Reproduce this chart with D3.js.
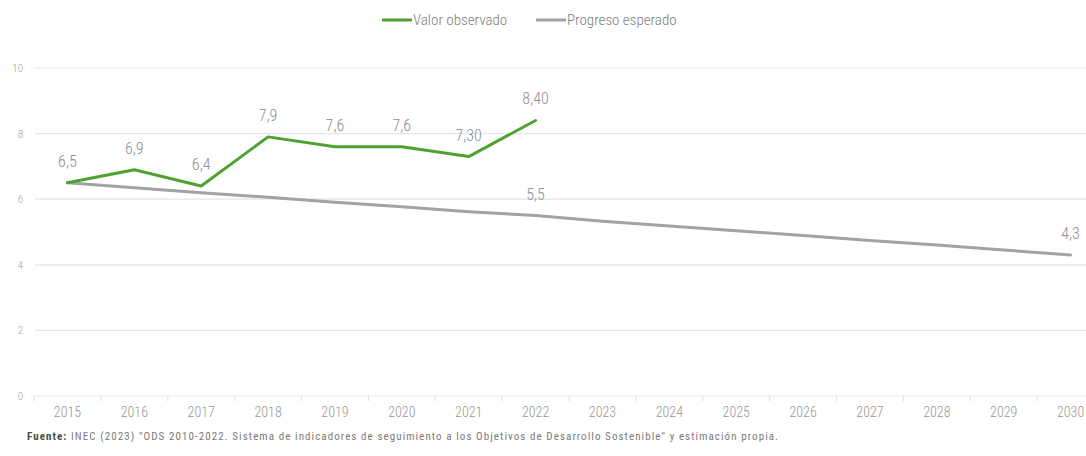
<!DOCTYPE html>
<html>
<head>
<meta charset="utf-8">
<script src="https://cdn.jsdelivr.net/npm/d3@7"></script>
<style>
  html, body { margin: 0; padding: 0; background: #fff; }
  svg { display: block; font-family: "Roboto Condensed", "Liberation Sans Narrow", "Arial Narrow", sans-serif; font-weight: 300; }
  .grid line { stroke: #e1e6ee; stroke-width: 1.2; }
  .lbl { fill: #8f8f8f; }
</style>
</head>
<body>
<div id="chart"></div>
<script>
// años del eje x
var years = ['2015','2016','2017','2018','2019','2020','2021','2022','2023','2024','2025','2026','2027','2028','2029','2030'];

// valor observado (2015-2022)
var observed = [6.5, 6.9, 6.4, 7.9, 7.6, 7.6, 7.3, 8.4];
var observedLabels = ['6,5','6,9','6,4','7,9','7,6','7,6','7,30','8,40'];

var expected = [6.5, 6.35, 6.2, 6.06, 5.91, 5.77, 5.62, 5.5, 5.33, 5.18, 5.04, 4.89, 4.74, 4.6, 4.45, 4.3];
// solo se rotulan 2022 y 2030
var expectedLabels = {'2022': '5,5', '2030': '4,3'};

var yTicks = [0, 2, 4, 6, 8, 10];

var seriesNames = ['Valor observado', 'Progreso esperado'];
var seriesColors = ['#4fa231', '#a3a3a3'];

var width = 1086, height = 456;

var svg = d3.select('#chart').append('svg')
    .attr('width', width)
    .attr('height', height);

var x = d3.scaleBand()
    .domain(years)
    .range([34, 1104]);

var y = d3.scaleLinear()
    .domain([0, 10])
    .range([396, 68]);

// lineas de cuadricula
svg.append('g').attr('class', 'grid')
  .selectAll('line')
  .data(yTicks)
  .enter().append('line')
    .attr('x1', 35)
    .attr('x2', width)
    .attr('y1', d => y(d))
    .attr('y2', d => y(d));

// eje y (solo etiquetas)
var yAxis = d3.axisLeft(y).tickValues(yTicks).tickSize(0).tickPadding(0);
svg.append('g')
    .attr('transform', 'translate(23,0)')
    .call(yAxis)
    .attr('font-family', null)
    .attr('font-size', null)
    .call(g => g.select('.domain').remove())
    .call(g => g.selectAll('text')
        .attr('fill', '#a5a5a5')
        .style('font-size', '11px'));

// eje x
var xAxis = d3.axisBottom(x).tickSize(0).tickPadding(11);
svg.append('g')
    .attr('transform', `translate(0,${y(0)})`)
    .call(xAxis)
    .attr('font-family', null)
    .attr('font-size', null)
    .call(g => g.select('.domain').remove())
    .call(g => g.selectAll('text')
        .attr('fill', '#969696')
        .style('font-size', '14px'));

// marcas entre categorias
svg.append('g').selectAll('line')
  .data(years)
  .enter().append('line')
    .attr('x1', d => x(d))
    .attr('x2', d => x(d))
    .attr('y1', y(0))
    .attr('y2', y(0) + 5)
    .attr('stroke', '#dde2ea')
    .attr('stroke-width', 1.2);

var line = d3.line()
    .x(d => x(d.year) + x.bandwidth() / 2)
    .y(d => y(d.value));

var expData = expected.map((v, i) => ({year: years[i], value: v}));
var obsData = observed.map((v, i) => ({year: years[i], value: v, label: observedLabels[i]}));

svg.append('path')
    .datum(expData)
    .attr('fill', 'none')
    .attr('stroke', seriesColors[1])
    .attr('stroke-width', 3)
    .attr('stroke-linejoin', 'round')
    .attr('stroke-linecap', 'round')
    .attr('d', line);

svg.append('path')
    .datum(obsData)
    .attr('fill', 'none')
    .attr('stroke', seriesColors[0])
    .attr('stroke-width', 3)
    .attr('stroke-linejoin', 'round')
    .attr('stroke-linecap', 'round')
    .attr('d', line);

// etiquetas de datos
svg.append('g').selectAll('text')
  .data(obsData)
  .enter().append('text')
    .attr('class', 'lbl')
    .attr('x', d => x(d.year) + x.bandwidth() / 2)
    .attr('y', d => y(d.value) - 16)
    .attr('text-anchor', 'middle')
    .style('font-size', '16px')
    .text(d => d.label);

svg.append('g').selectAll('text')
  .data(expData.filter(d => expectedLabels[d.year]))
  .enter().append('text')
    .attr('class', 'lbl')
    .attr('x', d => x(d.year) + x.bandwidth() / 2)
    .attr('y', d => y(d.value) - 16)
    .attr('text-anchor', 'middle')
    .style('font-size', '16px')
    .text(d => expectedLabels[d.year]);

// leyenda
var legendX = [382, 536];
var legend = svg.append('g').selectAll('g')
  .data(seriesNames)
  .enter().append('g')
    .attr('transform', (d, i) => `translate(${legendX[i]},20)`);

legend.append('line')
    .attr('x1', 0).attr('x2', 30)
    .attr('stroke', (d, i) => seriesColors[i])
    .attr('stroke-width', 3);

legend.append('text')
    .attr('x', 31)
    .attr('y', 5)
    .attr('fill', '#7d7d7d')
    .style('font-size', '15px')
    .text(d => d);

// fuente
var src = svg.append('text')
    .attr('x', 27)
    .attr('y', 440)
    .attr('fill', '#7a7a7a')
    .attr('textLength', 751)
    .attr('lengthAdjust', 'spacing')
    .style('font-size', '11px')
    .style('font-weight', 400);
src.append('tspan')
    .attr('fill', '#4a4a4a')
    .style('font-weight', 'bold')
    .text('Fuente:');
src.append('tspan')
    .text(' INEC (2023) "ODS 2010-2022. Sistema de indicadores de seguimiento a los Objetivos de Desarrollo Sostenible" y estimación propia.');
</script>
</body>
</html>
